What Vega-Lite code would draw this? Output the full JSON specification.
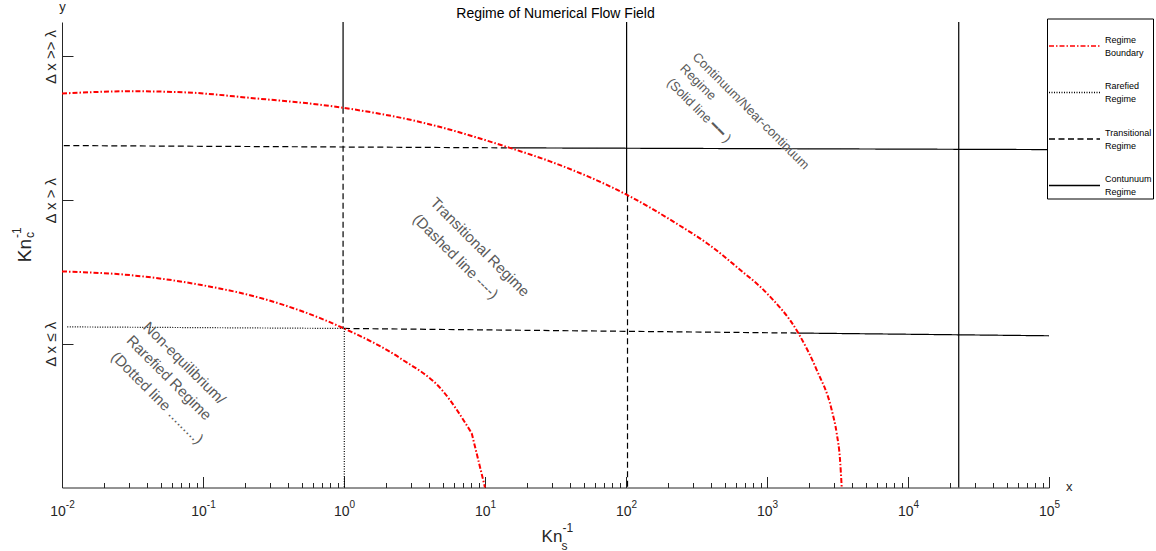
{
  "$schema": "https://vega.github.io/schema/vega-lite/v6.json",
  "width": 987,
  "height": 465.5,
  "autosize": {"type": "none"},
  "padding": {"left": 62, "top": 22, "right": 107, "bottom": 63.5},
  "background": "white",
  "config": {"view": {"stroke": null}, "font": "Liberation Sans"},
  "title": {
    "text": "Regime of Numerical Flow Field",
    "fontSize": 14,
    "fontWeight": "normal",
    "color": "#000000",
    "anchor": "middle",
    "frame": "group",
    "baseline": "alphabetic",
    "offset": -32.3
  },
  "datasets": {
    "regimeLines": [
      {"regime": "Rarefied Regime", "segment": "rare-h", "step": 1, "kns": 0.0109, "knc": 1.118},
      {"regime": "Rarefied Regime", "segment": "rare-h", "step": 2, "kns": 1.005, "knc": 1.107},
      {"regime": "Rarefied Regime", "segment": "rare-v", "step": 1, "kns": 1.005, "knc": 1.107},
      {"regime": "Rarefied Regime", "segment": "rare-v", "step": 2, "kns": 1.005, "knc": 0},
      {"regime": "Transitional Regime", "segment": "trans-h1", "step": 1, "kns": 0.0103, "knc": 2.38},
      {"regime": "Transitional Regime", "segment": "trans-h1", "step": 2, "kns": 15.0, "knc": 2.364},
      {"regime": "Transitional Regime", "segment": "trans-h2", "step": 1, "kns": 1.0, "knc": 1.107},
      {"regime": "Transitional Regime", "segment": "trans-h2", "step": 2, "kns": 1667, "knc": 1.075},
      {"regime": "Transitional Regime", "segment": "trans-v1", "step": 1, "kns": 0.985, "knc": 2.643},
      {"regime": "Transitional Regime", "segment": "trans-v1", "step": 2, "kns": 0.985, "knc": 1.107},
      {"regime": "Transitional Regime", "segment": "trans-v2", "step": 1, "kns": 102.5, "knc": 2.03},
      {"regime": "Transitional Regime", "segment": "trans-v2", "step": 2, "kns": 102.5, "knc": 0},
      {"regime": "Contunuum Regime", "segment": "cont-h1", "step": 1, "kns": 15.0, "knc": 2.364},
      {"regime": "Contunuum Regime", "segment": "cont-h1", "step": 2, "kns": 100000, "knc": 2.352},
      {"regime": "Contunuum Regime", "segment": "cont-h2", "step": 1, "kns": 1667, "knc": 1.075},
      {"regime": "Contunuum Regime", "segment": "cont-h2", "step": 2, "kns": 100000, "knc": 1.056},
      {"regime": "Contunuum Regime", "segment": "cont-v1", "step": 1, "kns": 0.985, "knc": 3.24},
      {"regime": "Contunuum Regime", "segment": "cont-v1", "step": 2, "kns": 0.985, "knc": 2.643},
      {"regime": "Contunuum Regime", "segment": "cont-v2", "step": 1, "kns": 101, "knc": 3.24},
      {"regime": "Contunuum Regime", "segment": "cont-v2", "step": 2, "kns": 101, "knc": 2.038},
      {"regime": "Contunuum Regime", "segment": "cont-v3", "step": 1, "kns": 22900, "knc": 3.24},
      {"regime": "Contunuum Regime", "segment": "cont-v3", "step": 2, "kns": 22900, "knc": 0}
    ],
    "boundary": [
      {"regime": "Regime Boundary", "segment": "outer", "step": 1, "kns": 0.01, "knc": 2.742},
      {"regime": "Regime Boundary", "segment": "outer", "step": 2, "kns": 0.0304, "knc": 2.758},
      {"regime": "Regime Boundary", "segment": "outer", "step": 3, "kns": 0.0721, "knc": 2.751},
      {"regime": "Regime Boundary", "segment": "outer", "step": 4, "kns": 0.215, "knc": 2.712},
      {"regime": "Regime Boundary", "segment": "outer", "step": 5, "kns": 0.984, "knc": 2.643},
      {"regime": "Regime Boundary", "segment": "outer", "step": 6, "kns": 3.29, "knc": 2.549},
      {"regime": "Regime Boundary", "segment": "outer", "step": 7, "kns": 15.0, "knc": 2.364},
      {"regime": "Regime Boundary", "segment": "outer", "step": 8, "kns": 28.9, "knc": 2.27},
      {"regime": "Regime Boundary", "segment": "outer", "step": 9, "kns": 101, "knc": 2.038},
      {"regime": "Regime Boundary", "segment": "outer", "step": 10, "kns": 241.5, "knc": 1.822},
      {"regime": "Regime Boundary", "segment": "outer", "step": 11, "kns": 373, "knc": 1.702},
      {"regime": "Regime Boundary", "segment": "outer", "step": 12, "kns": 644, "knc": 1.516},
      {"regime": "Regime Boundary", "segment": "outer", "step": 13, "kns": 995, "knc": 1.353},
      {"regime": "Regime Boundary", "segment": "outer", "step": 14, "kns": 1667, "knc": 1.075},
      {"regime": "Regime Boundary", "segment": "outer", "step": 15, "kns": 2250, "knc": 0.819},
      {"regime": "Regime Boundary", "segment": "outer", "step": 16, "kns": 2877, "knc": 0.54},
      {"regime": "Regime Boundary", "segment": "outer", "step": 17, "kns": 3120, "knc": 0.378},
      {"regime": "Regime Boundary", "segment": "outer", "step": 18, "kns": 3296, "knc": 0.192},
      {"regime": "Regime Boundary", "segment": "outer", "step": 19, "kns": 3388, "knc": 0},
      {"regime": "Regime Boundary", "segment": "inner", "step": 1, "kns": 0.01, "knc": 1.504},
      {"regime": "Regime Boundary", "segment": "inner", "step": 2, "kns": 0.0321, "knc": 1.476},
      {"regime": "Regime Boundary", "segment": "inner", "step": 3, "kns": 0.0953, "knc": 1.411},
      {"regime": "Regime Boundary", "segment": "inner", "step": 4, "kns": 0.283, "knc": 1.307},
      {"regime": "Regime Boundary", "segment": "inner", "step": 5, "kns": 0.989, "knc": 1.109},
      {"regime": "Regime Boundary", "segment": "inner", "step": 6, "kns": 2.5, "knc": 0.9},
      {"regime": "Regime Boundary", "segment": "inner", "step": 7, "kns": 5.06, "knc": 0.668},
      {"regime": "Regime Boundary", "segment": "inner", "step": 8, "kns": 8.05, "knc": 0.378},
      {"regime": "Regime Boundary", "segment": "inner-tail", "step": 1, "kns": 8.05, "knc": 0.378},
      {"regime": "Regime Boundary", "segment": "inner-tail", "step": 2, "kns": 10.0, "knc": 0}
    ],
    "regimeNotes": [
      {"kns": 4.64, "knc": 2.035, "note": "Transitional Regime"},
      {"kns": 3.49, "knc": 1.921, "note": "(Dashed line ----)"},
      {"kns": 0.0426, "knc": 1.17, "note": "Non-equilibrium/"},
      {"kns": 0.0325, "knc": 1.075, "note": "Rarefied Regime"},
      {"kns": 0.0253, "knc": 0.963, "note": "(Dotted line .........)"}
    ],
    "continuumNote": [
      {"kns": 328.9, "knc": 3.041, "note": "Continuum/Near-continuum"},
      {"kns": 268.2, "knc": 2.96, "note": "Regime"},
      {"kns": 216.5, "knc": 2.861, "note": "(Solid line ━━ )"}
    ]
  },
  "layer": [
    {
      "data": {"name": "regimeLines"},
      "mark": {"type": "line", "strokeWidth": 1.2, "clip": false},
      "encoding": {
        "x": {
          "field": "kns", "type": "quantitative",
          "scale": {"type": "log", "domain": [0.01, 100000], "nice": false},
          "axis": {
            "orient": "bottom",
            "values": [0.01, 0.1, 1, 10, 100, 1000, 10000, 100000],
            "ticks": false, "tickSize": 0, "grid": false,
            "domain": true, "domainColor": "#262626", "domainWidth": 1,
            "labelExpr": "'10'",
            "labelFont": "Liberation Sans", "labelFontSize": 14, "labelColor": "#262626",
            "labelAlign": "center", "labelBaseline": "alphabetic", "labelPadding": 27.5,
            "labelOffset": {"condition": {"test": "datum.value < 0.5", "value": -4.5}, "value": -2.8},
            "labelFlush": false, "labelOverlap": false, "labelBound": false,
            "title": "Kn", "titleFont": "Liberation Sans", "titleFontSize": 17, "titleFontWeight": "normal", "titleColor": "#262626",
            "titleX": 489.5, "titleY": 53.5, "titleAlign": "center", "titleBaseline": "alphabetic", "titleAngle": 0
          }
        },
        "y": {
          "field": "knc", "type": "quantitative",
          "scale": {"domain": [0, 3.24], "nice": false, "zero": false},
          "axis": {
            "orient": "left",
            "values": [1, 2, 3],
            "ticks": false, "tickSize": 0, "grid": false,
            "domain": true, "domainColor": "#262626", "domainWidth": 1,
            "labelExpr": "datum.value == 1 ? 'Δ x ≤ λ' : datum.value == 2 ? 'Δ x > λ' : 'Δ x >> λ'",
            "labelFont": "Liberation Sans", "labelFontSize": 15, "labelColor": "#262626",
            "labelAngle": -90, "labelAlign": "center", "labelBaseline": "alphabetic", "labelPadding": 7,
            "labelFlush": false, "labelOverlap": false, "labelBound": false,
            "title": "Kn", "titleFont": "Liberation Sans", "titleFontSize": 19, "titleFontWeight": "normal", "titleColor": "#262626",
            "titleX": -32, "titleY": 228, "titleAlign": "center", "titleBaseline": "alphabetic", "titleAngle": -90
          }
        },
        "detail": {"field": "segment"},
        "order": {"field": "step"},
        "color": {
          "field": "regime", "type": "nominal",
          "scale": {"domain": ["Regime Boundary", "Rarefied Regime", "Transitional Regime", "Contunuum Regime"], "range": ["#ff0000", "#000000", "#000000", "#000000"]},
          "legend": {
            "title": null, "orient": "none", "legendX": 985, "legendY": -3.5,
            "symbolType": "stroke", "symbolSize": 2601, "symbolStrokeWidth": 1.4,
            "labelExpr": "split(datum.label, ' ')",
            "labelFont": "Liberation Sans", "labelFontSize": 9, "labelColor": "#000000", "labelOffset": 4, "labelLimit": 0,
            "strokeColor": "#000000", "fillColor": "#ffffff", "padding": 1, "rowPadding": 8.5, "cornerRadius": 0,
            "encode": {"labels": {"update": {"lineHeight": {"value": 13}, "dy": {"value": -6.5}}}}
          }
        },
        "strokeDash": {
          "field": "regime", "type": "nominal",
          "scale": {"domain": ["Regime Boundary", "Rarefied Regime", "Transitional Regime", "Contunuum Regime"], "range": [[5, 2, 1.5, 2], [1, 1.5], [6, 3.5], [1, 0]]},
          "legend": {
            "title": null, "orient": "none", "legendX": 985, "legendY": -3.5,
            "symbolType": "stroke", "symbolSize": 2601, "symbolStrokeWidth": 1.4,
            "labelExpr": "split(datum.label, ' ')",
            "labelFont": "Liberation Sans", "labelFontSize": 9, "labelColor": "#000000", "labelOffset": 4, "labelLimit": 0,
            "strokeColor": "#000000", "fillColor": "#ffffff", "padding": 1, "rowPadding": 8.5, "cornerRadius": 0,
            "encode": {"labels": {"update": {"lineHeight": {"value": 13}, "dy": {"value": -6.5}}}}
          }
        }
      }
    },
    {
      "data": {"name": "boundary"},
      "mark": {"type": "line", "strokeWidth": 2, "interpolate": "monotone", "clip": false},
      "encoding": {
        "x": {
          "field": "kns", "type": "quantitative",
          "scale": {"type": "log", "domain": [0.01, 100000], "nice": false},
          "axis": {
            "orient": "bottom",
            "values": [0.01, 0.02, 0.03, 0.04, 0.05, 0.06, 0.07, 0.08, 0.09,
                       0.1, 0.2, 0.3, 0.4, 0.5, 0.6, 0.7, 0.8, 0.9,
                       1, 2, 3, 4, 5, 6, 7, 8, 9,
                       10, 20, 30, 40, 50, 60, 70, 80, 90,
                       100, 200, 300, 400, 500, 600, 700, 800, 900,
                       1000, 2000, 3000, 4000, 5000, 6000, 7000, 8000, 9000,
                       10000, 20000, 30000, 40000, 50000, 60000, 70000, 80000, 90000,
                       100000],
            "ticks": true,
            "tickSize": {"condition": {"test": "abs(log(datum.value) / LN10 - round(log(datum.value) / LN10)) < 0.01", "value": -11}, "value": -5},
            "tickColor": "#262626", "tickWidth": 1,
            "labels": false, "domain": false, "grid": false,
            "title": "x", "titleFont": "Liberation Sans", "titleFontSize": 13, "titleFontWeight": "normal", "titleColor": "#262626",
            "titleX": 1006.8, "titleY": 2.5, "titleAlign": "center", "titleBaseline": "alphabetic", "titleAngle": 0
          }
        },
        "y": {
          "field": "knc", "type": "quantitative",
          "scale": {"domain": [0, 3.24], "nice": false, "zero": false},
          "axis": {
            "orient": "left",
            "values": [1, 2, 3],
            "ticks": true, "tickSize": -11, "tickColor": "#262626", "tickWidth": 1,
            "labels": false, "domain": false, "grid": false,
            "title": "y", "titleFont": "Liberation Sans", "titleFontSize": 13, "titleFontWeight": "normal", "titleColor": "#262626",
            "titleX": 0, "titleY": -12, "titleAlign": "center", "titleBaseline": "alphabetic", "titleAngle": 0
          }
        },
        "detail": {"field": "segment"},
        "order": {"field": "step"},
        "color": {
          "field": "regime", "type": "nominal",
          "scale": {"domain": ["Regime Boundary", "Rarefied Regime", "Transitional Regime", "Contunuum Regime"], "range": ["#ff0000", "#000000", "#000000", "#000000"]}
        },
        "strokeDash": {
          "field": "regime", "type": "nominal",
          "scale": {"domain": ["Regime Boundary", "Rarefied Regime", "Transitional Regime", "Contunuum Regime"], "range": [[5, 2, 1.5, 2], [1, 1.5], [6, 3.5], [1, 0]]}
        }
      }
    },
    {
      "data": {"name": "regimeNotes"},
      "mark": {"type": "text", "align": "left", "baseline": "top", "angle": 45, "fontSize": 15, "font": "Liberation Sans", "color": "#5a5a5a", "clip": false},
      "encoding": {
        "x": {
          "field": "kns", "type": "quantitative",
          "scale": {"type": "log", "domain": [0.01, 100000], "nice": false},
          "axis": {
            "orient": "bottom",
            "values": [0.01, 0.1, 1, 10, 100, 1000, 10000, 100000],
            "ticks": false, "tickSize": 0, "domain": false, "grid": false,
            "labelExpr": "'' + round(log(datum.value) / LN10)",
            "labelFont": "Liberation Sans", "labelFontSize": 10, "labelColor": "#262626",
            "labelAlign": "left", "labelBaseline": "alphabetic", "labelPadding": 20,
            "labelOffset": {"condition": {"test": "datum.value < 0.5", "value": 3.3}, "value": 5},
            "labelFlush": false, "labelOverlap": false, "labelBound": false,
            "title": "s", "titleFont": "Liberation Sans", "titleFontSize": 12, "titleFontWeight": "normal", "titleColor": "#262626",
            "titleX": 499, "titleY": 61.5, "titleAlign": "left", "titleBaseline": "alphabetic", "titleAngle": 0
          }
        },
        "y": {
          "field": "knc", "type": "quantitative",
          "scale": {"domain": [0, 3.24], "nice": false, "zero": false},
          "axis": {
            "orient": "left",
            "ticks": false, "labels": false, "domain": false, "grid": false,
            "title": "c", "titleFont": "Liberation Sans", "titleFontSize": 12, "titleFontWeight": "normal", "titleColor": "#262626",
            "titleX": -29, "titleY": 215.5, "titleAlign": "left", "titleBaseline": "alphabetic", "titleAngle": -90
          }
        },
        "text": {"field": "note", "type": "nominal"}
      }
    },
    {
      "data": {"name": "continuumNote"},
      "mark": {"type": "text", "align": "left", "baseline": "top", "angle": 45, "fontSize": 13, "font": "Liberation Sans", "color": "#5a5a5a", "clip": false},
      "encoding": {
        "x": {
          "field": "kns", "type": "quantitative",
          "scale": {"type": "log", "domain": [0.01, 100000], "nice": false},
          "axis": {
            "orient": "bottom",
            "ticks": false, "labels": false, "domain": false, "grid": false,
            "title": "-1", "titleFont": "Liberation Sans", "titleFontSize": 12, "titleFontWeight": "normal", "titleColor": "#262626",
            "titleX": 500, "titleY": 43.5, "titleAlign": "left", "titleBaseline": "alphabetic", "titleAngle": 0
          }
        },
        "y": {
          "field": "knc", "type": "quantitative",
          "scale": {"domain": [0, 3.24], "nice": false, "zero": false},
          "axis": {
            "orient": "left",
            "ticks": false, "labels": false, "domain": false, "grid": false,
            "title": "-1", "titleFont": "Liberation Sans", "titleFontSize": 12, "titleFontWeight": "normal", "titleColor": "#262626",
            "titleX": -42, "titleY": 215.5, "titleAlign": "left", "titleBaseline": "alphabetic", "titleAngle": -90
          }
        },
        "text": {"field": "note", "type": "nominal"}
      }
    }
  ],
  "resolve": {"axis": {"x": "independent", "y": "independent"}}
}
